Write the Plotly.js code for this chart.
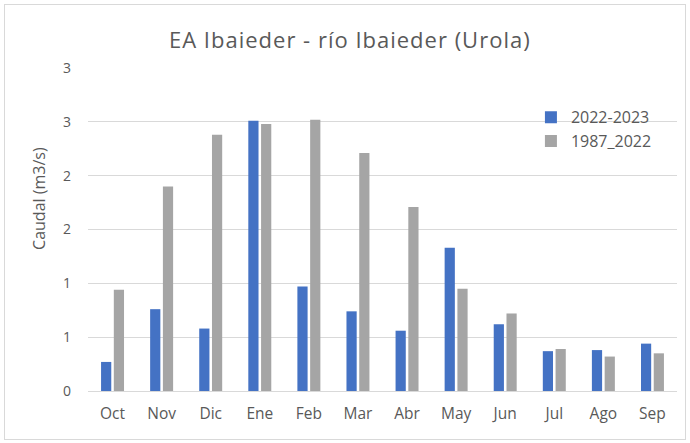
<!DOCTYPE html>
<html>
<head>
<meta charset="utf-8">
<script src="https://cdn.plot.ly/plotly-3.0.1.min.js"></script>
<style>
  html, body { margin: 0; padding: 0; background: #ffffff; }
  #frame { position: absolute; left: 4px; top: 4px; width: 680px; height: 434px; border: 1px solid #d9d9d9; }
  #chart { position: absolute; left: 0; top: 0; width: 690px; height: 443px; }
  #chart .gtitle { letter-spacing: 1px; }
</style>
</head>
<body>
<div id="frame"></div>
<div id="chart"></div>
<script>
const months = ["Oct","Nov","Dic","Ene","Feb","Mar","Abr","May","Jun","Jul","Ago","Sep"];
const s2022_2023 = [0.27, 0.76, 0.58, 2.51, 0.97, 0.74, 0.56, 1.33, 0.62, 0.37, 0.38, 0.44];
const s1987_2022 = [0.94, 1.90, 2.38, 2.48, 2.52, 2.21, 1.71, 0.95, 0.72, 0.39, 0.32, 0.35];
const yTickVals = [0, 0.5, 1, 1.5, 2, 2.5, 3];
const yTickText = ["0", "1", "1", "2", "2", "3", "3"];

const font = "'Open Sans', 'Liberation Sans', sans-serif";
const grey = "#595959";

const data = [
  { type: "bar", name: "2022-2023", x: months, y: s2022_2023, marker: { color: "#4472c4" }, hoverinfo: "skip" },
  { type: "bar", name: "1987_2022", x: months, y: s1987_2022, marker: { color: "#a5a5a5" }, hoverinfo: "skip" }
];

const layout = {
  width: 690, height: 443,
  paper_bgcolor: "rgba(0,0,0,0)", plot_bgcolor: "rgba(0,0,0,0)",
  margin: { l: 88, r: 13, t: 68, b: 52 },
  font: { family: font, color: grey },
  title: { text: "EA Ibaieder - río Ibaieder (Urola)", x: 0.507, xref: "container", xanchor: "center", y: 0.91, yref: "container", yanchor: "middle", font: { size: 22, color: grey, family: font } },
  barmode: "group", bargap: 0.48, bargroupgap: 0.2,
  xaxis: { type: "category", showgrid: false, showline: false, zeroline: false, ticks: "", tickfont: { size: 15.5, color: grey }, ticklabelstandoff: 11 },
  yaxis: {
    range: [0, 3], tickvals: yTickVals, ticktext: yTickText,
    showgrid: true, gridcolor: "#d9d9d9", gridwidth: 1,
    zeroline: true, zerolinecolor: "#d9d9d9", zerolinewidth: 1,
    showline: false, ticks: "", tickfont: { size: 14, color: grey }, ticklabelstandoff: 16
  },
  annotations: [
    { text: "Caudal (m3/s)", textangle: -90, xref: "paper", yref: "paper", x: -0.083, y: 0.595, xanchor: "center", yanchor: "middle", showarrow: false, font: { size: 16, color: grey, family: font } }
  ],
  legend: { x: 0.752, y: 0.9, xanchor: "left", yanchor: "top", bgcolor: "rgba(0,0,0,0)", font: { size: 16, color: grey }, tracegroupgap: 11 },
  showlegend: true
};

Plotly.newPlot("chart", data, layout, { displayModeBar: false, staticPlot: true });
</script>
</body>
</html>
